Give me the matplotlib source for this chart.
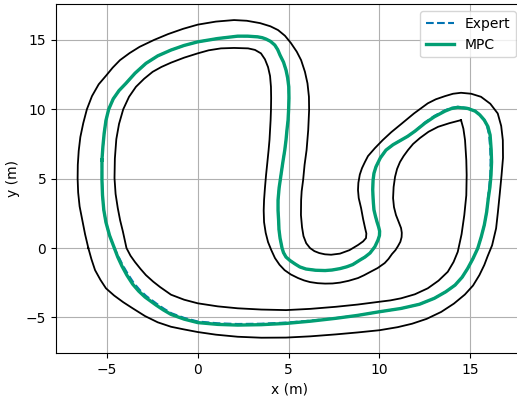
import matplotlib
matplotlib.use('Agg')
from matplotlib import pyplot as plt

# track boundaries (m)
outer_pts = [
    (-6.02, 0.0), (-6.20, 1.0), (-6.35, 2.0), (-6.50, 3.0), (-6.58, 4.0), (-6.61, 5.0), (-6.60, 6.0),
    (-6.55, 7.0), (-6.46, 8.0), (-6.30, 9.0), (-6.10, 10.0), (-5.82, 10.95), (-5.45, 11.8), (-5.02, 12.46),
    (-4.68, 13.0), (-4.28, 13.54), (-3.75, 14.05), (-3.20, 14.50), (-2.40, 15.0), (-1.63, 15.42),
    (-0.80, 15.80), (0.0, 16.10), (1.0, 16.32), (2.0, 16.43), (2.7, 16.38), (3.43, 16.21), (4.0, 15.98),
    (4.42, 15.71), (4.80, 15.30), (5.13, 14.77), (5.45, 14.15), (5.69, 13.54), (5.90, 12.70),
    (6.04, 11.87), (6.12, 10.90), (6.13, 9.94), (6.08, 8.50), (5.99, 7.06), (5.88, 6.0), (5.80, 4.90),
    (5.72, 4.10), (5.69, 3.46), (5.68, 2.38), (5.74, 1.50), (5.82, 0.86), (5.97, 0.35), (6.18, 0.0),
    (6.42, -0.22), (6.69, -0.36), (7.0, -0.45), (7.34, -0.48), (7.83, -0.40), (8.35, -0.15),
    (8.82, 0.22), (9.10, 0.48), (9.26, 0.72), (9.28, 1.05), (9.21, 1.44), (9.10, 2.10), (8.99, 2.88),
    (8.86, 3.60), (8.82, 4.18), (8.84, 4.70), (8.92, 5.30), (9.04, 5.76), (9.20, 6.20), (9.37, 6.63),
    (9.75, 7.20), (10.18, 7.78), (10.65, 8.35), (11.19, 8.93), (11.90, 9.70), (12.66, 10.43),
    (13.10, 10.72), (13.61, 10.95), (14.05, 11.12), (14.49, 11.19), (15.05, 11.12), (15.59, 10.90),
    (16.10, 10.40), (16.51, 9.70), (16.70, 8.80), (16.79, 7.78), (16.80, 6.50), (16.72, 5.26),
    (16.62, 3.90), (16.52, 2.60), (16.42, 1.42), (16.20, 0.20), (15.95, -0.60), (15.77, -1.22),
    (15.50, -1.95), (15.15, -2.70), (14.70, -3.35), (14.10, -4.0), (13.40, -4.60), (12.60, -5.10),
    (11.80, -5.45), (11.0, -5.70), (10.0, -5.92), (8.80, -6.08), (7.60, -6.22), (6.20, -6.36),
    (4.86, -6.45), (3.50, -6.46), (2.20, -6.39), (1.0, -6.24), (0.0, -6.05), (-0.80, -5.85),
    (-1.47, -5.67), (-2.20, -5.35), (-2.90, -4.90), (-3.58, -4.34), (-4.10, -3.90), (-4.60, -3.42),
    (-5.05, -2.90), (-5.35, -2.30), (-5.65, -1.59), (-5.85, -0.80), (-6.02, 0.0)]

inner_pts = [
    (14.49, 9.22), (13.85, 9.0), (13.23, 8.74), (12.70, 8.38), (12.23, 7.93), (11.85, 7.50),
    (11.57, 7.06), (11.33, 6.63), (11.13, 6.20), (10.97, 5.70), (10.86, 5.14), (10.78, 4.40),
    (10.75, 3.60), (10.80, 2.95), (10.91, 2.38), (11.06, 1.88), (11.19, 1.44), (11.23, 1.10),
    (11.22, 0.79), (11.15, 0.45), (11.02, 0.14), (10.88, -0.15), (10.69, -0.43), (10.50, -0.78),
    (10.29, -1.08), (9.90, -1.44), (9.48, -1.73), (9.15, -1.96), (8.82, -2.16), (8.30, -2.36),
    (7.83, -2.49), (7.42, -2.55), (7.01, -2.56), (6.60, -2.53), (6.18, -2.45), (5.85, -2.33),
    (5.52, -2.16), (5.12, -1.90), (4.78, -1.59), (4.50, -1.20), (4.25, -0.72), (4.05, -0.15),
    (3.87, 0.43), (3.74, 1.10), (3.65, 1.87), (3.63, 2.70), (3.65, 3.46), (3.70, 4.35), (3.76, 5.26),
    (3.83, 6.15), (3.90, 7.06), (3.95, 7.80), (3.98, 8.50), (4.01, 9.20), (4.03, 9.94), (4.04, 10.80),
    (4.03, 11.62), (3.98, 12.40), (3.87, 13.04), (3.70, 13.60), (3.48, 14.03), (3.15, 14.28),
    (2.77, 14.39), (2.0, 14.42), (1.28, 14.39), (0.60, 14.25), (0.0, 14.03), (-0.75, 13.72),
    (-1.47, 13.36), (-2.0, 13.05), (-2.48, 12.70), (-2.95, 12.20), (-3.40, 11.62), (-3.78, 10.90),
    (-4.10, 10.0), (-4.33, 8.95), (-4.48, 7.85), (-4.56, 6.45), (-4.58, 5.04), (-4.52, 3.90),
    (-4.40, 2.88), (-4.27, 2.0), (-4.12, 1.20), (-3.92, 0.0), (-3.70, -0.55), (-3.45, -1.01),
    (-3.15, -1.50), (-2.85, -1.95), (-2.45, -2.42), (-2.07, -2.81), (-1.47, -3.36), (-0.75, -3.72),
    (0.0, -3.98), (1.10, -4.20), (2.20, -4.34), (3.50, -4.43), (4.86, -4.47), (6.20, -4.38),
    (7.61, -4.23), (8.80, -4.07), (9.99, -3.87), (10.60, -3.77), (11.19, -3.62), (11.95, -3.33),
    (12.66, -2.90), (13.25, -2.35), (13.76, -1.71), (14.08, -1.0), (14.31, -0.27), (14.52, 1.0),
    (14.67, 2.38), (14.78, 3.80), (14.80, 5.26), (14.78, 6.34), (14.71, 7.78), (14.62, 8.60),
    (14.49, 9.22)]

# driven paths
mpc_pts = [
    (-5.27, 6.34), (-5.27, 4.90), (-5.24, 3.80), (-5.17, 2.75), (-5.05, 1.85), (-4.85, 0.90),
    (-4.59, 0.0), (-4.40, -0.65), (-4.17, -1.30), (-3.90, -1.95), (-3.58, -2.60), (-3.25, -3.10),
    (-2.90, -3.53), (-2.29, -4.11), (-1.90, -4.45), (-1.47, -4.78), (-0.75, -5.12), (0.0, -5.37),
    (1.10, -5.50), (2.20, -5.55), (3.50, -5.52), (4.86, -5.43), (6.20, -5.27), (7.61, -5.06),
    (8.80, -4.85), (9.99, -4.59), (11.19, -4.35), (12.20, -4.05), (13.02, -3.62), (13.65, -3.15),
    (14.16, -2.67), (14.55, -2.10), (14.86, -1.46), (15.15, -0.75), (15.41, -0.02), (15.60, 0.80),
    (15.77, 1.66), (15.90, 2.60), (15.99, 3.58), (16.08, 4.40), (16.14, 5.26), (16.17, 6.20),
    (16.15, 7.06), (16.09, 8.14), (15.97, 8.75), (15.77, 9.22), (15.52, 9.60), (15.26, 9.87),
    (14.86, 10.06), (14.31, 10.14), (13.95, 10.05), (13.61, 9.87), (13.02, 9.46), (12.50, 9.0),
    (11.96, 8.43), (11.55, 8.05), (11.19, 7.78), (10.75, 7.45), (10.36, 7.06), (10.05, 6.50),
    (9.81, 5.86), (9.70, 5.40), (9.65, 4.90), (9.63, 4.20), (9.65, 3.60), (9.67, 3.20), (9.70, 2.74),
    (9.78, 2.30), (9.87, 1.87), (9.96, 1.50), (10.01, 1.22), (10.0, 0.90), (9.92, 0.58), (9.75, 0.10),
    (9.48, -0.36), (9.20, -0.65), (8.93, -0.86), (8.53, -1.19), (8.20, -1.35), (7.83, -1.48),
    (7.40, -1.58), (7.01, -1.62), (6.50, -1.60), (5.96, -1.51), (5.62, -1.36), (5.36, -1.15),
    (5.08, -0.90), (4.86, -0.65), (4.72, -0.33), (4.64, 0.0), (4.53, 0.72), (4.47, 1.35), (4.45, 2.02),
    (4.42, 2.70), (4.42, 3.46), (4.48, 4.35), (4.58, 5.26), (4.68, 6.15), (4.79, 7.06), (4.86, 7.80),
    (4.91, 8.50), (4.97, 9.20), (5.00, 9.94), (5.02, 10.80), (5.01, 11.62), (4.95, 12.25),
    (4.86, 12.82), (4.72, 13.40), (4.53, 13.90), (4.40, 14.30), (4.24, 14.63), (4.0, 14.90),
    (3.76, 15.06), (3.55, 15.16), (3.30, 15.22), (2.75, 15.27), (2.20, 15.27), (1.10, 15.10),
    (0.0, 14.86), (-0.75, 14.60), (-1.47, 14.27), (-2.20, 13.85), (-2.85, 13.31), (-3.45, 12.60),
    (-3.95, 11.87), (-4.33, 11.35), (-4.65, 10.75), (-4.90, 10.0), (-5.05, 9.20), (-5.15, 8.26),
    (-5.22, 7.30), (-5.27, 6.34)]

expert_pts = [
    (-5.27, 6.34), (-5.27, 4.90), (-5.24, 3.80), (-5.17, 2.75), (-5.05, 1.85), (-4.85, 0.90),
    (-4.59, 0.0), (-4.36, -0.62), (-4.12, -1.25), (-3.84, -1.88), (-3.52, -2.52), (-3.19, -3.02),
    (-2.84, -3.45), (-2.24, -4.03), (-1.86, -4.37), (-1.44, -4.70), (-0.73, -5.04), (0.0, -5.29),
    (1.10, -5.42), (2.20, -5.47), (3.50, -5.45), (4.86, -5.37), (6.20, -5.23), (7.61, -5.04),
    (8.80, -4.85), (9.99, -4.59), (11.19, -4.35), (12.20, -4.05), (13.02, -3.62), (13.65, -3.15),
    (14.16, -2.67), (14.55, -2.10), (14.86, -1.46), (15.15, -0.75), (15.41, -0.02), (15.60, 0.80),
    (15.77, 1.66), (15.90, 2.60), (15.97, 3.58), (16.04, 4.40), (16.10, 5.26), (16.12, 6.20),
    (16.10, 7.06), (16.04, 8.14), (15.93, 8.73), (15.77, 9.24), (15.52, 9.63), (15.26, 9.90),
    (14.86, 10.09), (14.31, 10.18), (13.95, 10.10), (13.61, 9.93), (13.02, 9.52), (12.50, 9.05),
    (11.96, 8.43), (11.55, 8.05), (11.19, 7.78), (10.75, 7.45), (10.36, 7.06), (10.05, 6.50),
    (9.81, 5.86), (9.70, 5.40), (9.65, 4.90), (9.63, 4.20), (9.65, 3.60), (9.67, 3.20), (9.70, 2.74),
    (9.78, 2.30), (9.87, 1.87), (9.96, 1.50), (10.01, 1.22), (10.0, 0.90), (9.92, 0.58), (9.75, 0.10),
    (9.48, -0.36), (9.20, -0.65), (8.93, -0.86), (8.53, -1.19), (8.20, -1.35), (7.83, -1.48),
    (7.40, -1.58), (7.01, -1.62), (6.50, -1.60), (5.96, -1.51), (5.62, -1.36), (5.36, -1.15),
    (5.08, -0.90), (4.86, -0.65), (4.72, -0.33), (4.64, 0.0), (4.53, 0.72), (4.47, 1.35), (4.45, 2.02),
    (4.42, 2.70), (4.42, 3.46), (4.48, 4.35), (4.58, 5.26), (4.68, 6.15), (4.79, 7.06), (4.86, 7.80),
    (4.91, 8.50), (4.97, 9.20), (5.00, 9.94), (5.02, 10.80), (5.01, 11.62), (4.95, 12.25),
    (4.86, 12.82), (4.72, 13.40), (4.53, 13.90), (4.40, 14.30), (4.24, 14.63), (4.0, 14.90),
    (3.76, 15.06), (3.55, 15.16), (3.30, 15.22), (2.75, 15.27), (2.20, 15.27), (1.10, 15.10),
    (0.0, 14.86), (-0.75, 14.60), (-1.47, 14.27), (-2.20, 13.85), (-2.85, 13.31), (-3.45, 12.60),
    (-3.95, 11.87), (-4.33, 11.35), (-4.65, 10.75), (-4.90, 10.0), (-5.05, 9.20), (-5.15, 8.26),
    (-5.22, 7.30), (-5.27, 6.34)]


def xy(pts):
    return [p[0] for p in pts], [p[1] for p in pts]


fig = plt.figure(figsize=(5.17, 3.98), dpi=100)
# axes runs a little past the right edge of the image, like the cropped original
ax = fig.add_axes([0.1083, 0.1131, 0.9033, 0.8759])

ox, oy = xy(outer_pts)
ix, iy = xy(inner_pts)
ex, ey = xy(expert_pts)
mx, my = xy(mpc_pts)
ax.plot(ox, oy, color='k', linewidth=1.3)
ax.plot(ix, iy, color='k', linewidth=1.3)
ax.plot(ex, ey, '--', color='#0173b2', linewidth=1.5, label='Expert')
ax.plot(mx, my, color='#029e73', linewidth=2.4, label='MPC')

ax.set_xlim(-7.8, 17.9)
ax.set_ylim(-7.56, 17.56)
ax.set_xlabel('x (m)')
ax.set_ylabel('y (m)')
ax.grid(True)
ax.legend(loc='upper right')

fig.savefig('out.png', dpi=100)
